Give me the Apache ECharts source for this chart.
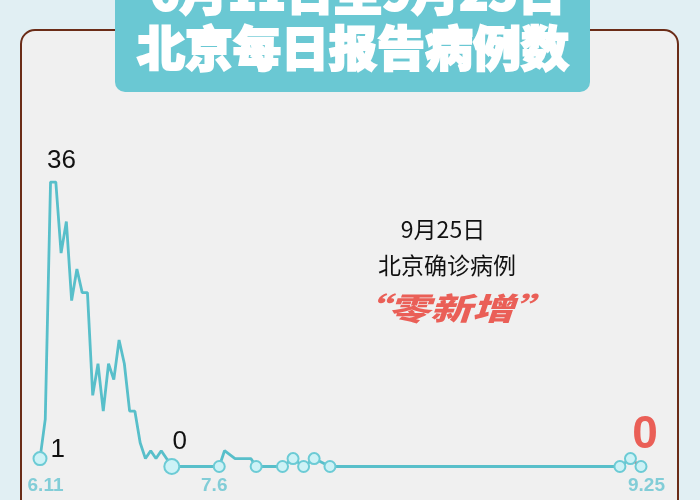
<!DOCTYPE html>
<html>
<head>
<meta charset="utf-8">
<title>北京每日报告病例数</title>
<script src="https://cdn.jsdelivr.net/npm/echarts@6.0.0/dist/echarts.min.js"></script>
<style>
html, body { margin: 0; padding: 0; background: #e1eff3; }
#chart { width: 700px; height: 500px; }
</style>
</head>
<body>
<div id="chart"></div>
<script>
// x = step on the drawing's own scale (6.11 = 0, 9.25 = 114), y = cases reported that day
var days = [0, 1, 2, 3, 4, 5, 6, 7, 8, 9, 10, 11, 12, 13, 14, 15, 16, 17, 18, 19, 20, 21, 22, 23, 24, 25,
	34, 35, 37, 40, 41, 46, 48, 50, 52, 55, 110, 112, 114];
var cases = [1, 6, 36, 36, 27, 31, 21, 25, 22, 22, 9, 13, 7, 13, 11, 16, 13, 7, 7, 3, 1, 2, 1, 2, 1, 0,
	0, 2, 1, 1, 0, 0, 1, 0, 1, 0, 0, 1, 0];
var markedDays = [0, 25, 34, 41, 46, 48, 50, 52, 55, 110, 112, 114];
var tickDays = [0, 34, 114];
var tickLabels = ['6.11', '7.6', '9.25'];
var titleLines = ['6月11日至9月25日', '北京每日报告病例数'];
var noteLines = ['9月25日', '北京确诊病例', '“零新增”'];

var teal = '#58bfca';
var red = '#ea5f57';
var latin = '"Liberation Sans", Arial, sans-serif';
var cjk = '"Noto Sans CJK SC", sans-serif';

function caseLabel(size, color, weight, pos, offset) {
	return {
		show: true,
		position: pos,
		offset: offset,
		fontSize: size,
		fontFamily: latin,
		fontWeight: weight,
		color: color,
		formatter: function(p) {
			return p.value[1];
		}
	};
}

function buildPoint(i) {
	var item = {
		value: [days[i], cases[i]]
	};
	if(markedDays.indexOf(days[i]) < 0) item.symbol = 'none';
	else if(i == 0) item.symbolSize = 13;
	else if(i == 25) item.symbolSize = 15;
	if(i == 0) item.label = caseLabel(26, '#111', 'normal', 'right', [-2, -9]);
	if(i == 2) {
		// peak label needs a (hidden) symbol to hang on
		item.symbol = 'circle';
		item.symbolSize = 1;
		item.itemStyle = { color: 'transparent', borderWidth: 0 };
		item.label = caseLabel(26, '#111', 'normal', 'top', [11, -3]);
	}
	if(i == 25) item.label = caseLabel(26, '#111', 'normal', 'top', [8, 2]);
	if(i == days.length - 1) item.label = caseLabel(46, red, 'bold', 'top', [4, 3]);
	return item;
}

var mainData = [];
for(var i = 0; i < days.length - 1; i++) mainData.push(buildPoint(i));
var lastData = [];
lastData.push({
	value: [days[days.length - 2], cases[cases.length - 2]],
	symbol: 'none'
});
lastData.push(buildPoint(days.length - 1));

var markerStyle = {
	color: '#cdf2f6',
	borderColor: '#6ccbd5',
	borderWidth: 2
};

function titleText(text, x, y) {
	return {
		type: 'text',
		x: x,
		y: y,
		style: {
			text: text,
			align: 'center',
			verticalAlign: 'middle',
			font: '900 48px ' + cjk,
			fill: '#fff',
			stroke: '#fff',
			lineWidth: 2,
			shadowColor: '#3f9fab',
			shadowOffsetX: 2,
			shadowOffsetY: 3,
			shadowBlur: 1
		}
	};
}

var mychart = echarts.init(document.getElementById('chart'));
var option = {
	backgroundColor: '#e1eff3',
	animation: false,
	grid: {
		left: 40,
		right: 59,
		top: 182,
		bottom: 33.5,
		outerBoundsMode: 'none'
	},
	xAxis: {
		type: 'value',
		min: 0,
		max: 114,
		axisLine: { show: false },
		axisTick: { show: false },
		splitLine: { show: false },
		axisLabel: {
			customValues: tickDays,
			margin: 10,
			color: '#82cdd7',
			fontSize: 19,
			fontWeight: 'bold',
			fontFamily: latin,
			formatter: function(v) {
				var k = tickDays.indexOf(v);
				return (k == 1 ? '{l|' : '{r|') + tickLabels[k] + '}';
			},
			rich: {
				l: { padding: [0, 10, 0, 0] },
				r: { padding: [0, 0, 0, 11] }
			}
		}
	},
	yAxis: {
		type: 'value',
		min: 0,
		max: 36,
		show: false
	},
	graphic: [{
			type: 'rect',
			shape: { x: 21, y: 30, width: 657, height: 500, r: 14 },
			style: { fill: '#f0f0f0', stroke: '#6b2c17', lineWidth: 2 }
		},
		{
			type: 'rect',
			shape: { x: 115, y: -20, width: 475, height: 112, r: 10 },
			style: { fill: '#6ac8d3' }
		},
		titleText(titleLines[0], 358, -8),
		titleText(titleLines[1], 353, 48),
		{
			type: 'text',
			x: 443,
			y: 229,
			style: {
				text: noteLines[0],
				align: 'center',
				verticalAlign: 'middle',
				font: '23px ' + cjk,
				fill: '#111'
			}
		},
		{
			type: 'text',
			x: 447,
			y: 265,
			style: {
				text: noteLines[1],
				align: 'center',
				verticalAlign: 'middle',
				font: '23px ' + cjk,
				fill: '#111'
			}
		},
		{
			type: 'text',
			x: 451,
			y: 308,
			scaleX: 1.35,
			style: {
				text: noteLines[2],
				align: 'center',
				verticalAlign: 'middle',
				font: 'italic 900 31px ' + cjk,
				fill: red
			}
		}
	],
	series: [{
			name: 'cases',
			type: 'line',
			z: 3,
			data: mainData,
			symbol: 'circle',
			symbolSize: 11,
			showAllSymbol: true,
			lineStyle: { color: teal, width: 2.8 },
			itemStyle: markerStyle
		},
		{
			name: 'last',
			type: 'line',
			z: 2,
			data: lastData,
			symbol: 'circle',
			symbolSize: 11,
			lineStyle: { color: red, width: 2.8 },
			itemStyle: markerStyle
		}
	]
};
mychart.setOption(option);
</script>
</body>
</html>
